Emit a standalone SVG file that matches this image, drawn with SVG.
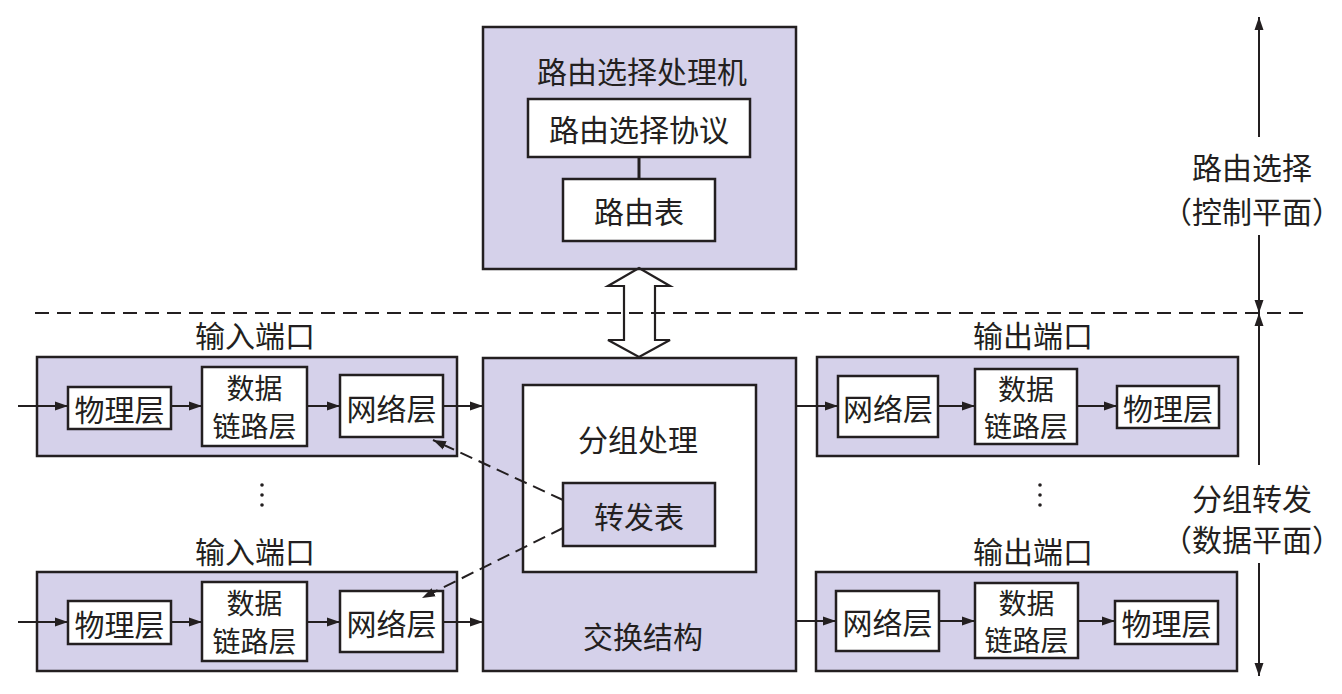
<svg xmlns="http://www.w3.org/2000/svg" width="1342" height="694" viewBox="0 0 1342 694">
<defs>
<style>
.lav{fill:#d5d1ea;stroke:#231f20;stroke-width:2.5}
.wht{fill:#ffffff;stroke:#231f20;stroke-width:2.5}
.t{font-family:"Noto Sans CJK SC","Noto Sans",sans-serif;font-size:30px;fill:#231f20;text-anchor:middle;dominant-baseline:central}
.t2{font-size:28px}
.ln{stroke:#231f20;stroke-width:2;fill:none}
.arr{stroke:#231f20;stroke-width:2;fill:none;marker-end:url(#ah)}
.dash{stroke:#231f20;stroke-width:2;fill:none;stroke-dasharray:13 7;marker-end:url(#ah)}
</style>
<marker id="ah" markerWidth="13" markerHeight="10" refX="13" refY="5" orient="auto" markerUnits="userSpaceOnUse">
<path d="M0,0.5 L13,5 L0,9.5 z" fill="#231f20"/>
</marker>
</defs>
<rect width="1342" height="694" fill="#ffffff"/>

<g id="routing-processor">
<rect class="lav" x="483" y="27" width="313" height="242"/>
<text class="t" x="642" y="70">路由选择处理机</text>
<rect class="wht" x="528" y="99" width="222" height="58"/>
<text class="t" x="639" y="128">路由选择协议</text>
<rect class="wht" x="563" y="179" width="152" height="62"/>
<text class="t" x="639" y="210">路由表</text>
</g>

<g id="switch-fabric">
<rect class="lav" x="483" y="358" width="313" height="313"/>
<rect class="wht" x="523" y="385" width="233" height="187"/>
<text class="t" x="638" y="438">分组处理</text>
<rect class="lav" x="563" y="483" width="152" height="63"/>
<text class="t" x="639" y="515">转发表</text>
<text class="t" x="643" y="635">交换结构</text>
</g>

<g id="input-port-1">
<text class="t" x="255" y="334">输入端口</text>
<rect class="lav" x="37" y="357" width="420" height="99"/>
<rect class="wht" x="68" y="387" width="103" height="42"/>
<text class="t" x="119.5" y="408">物理层</text>
<rect class="wht" x="202" y="367" width="105" height="79"/>
<text class="t t2" x="254.5" y="387">数据</text>
<text class="t t2" x="254.5" y="425">链路层</text>
<rect class="wht" x="340" y="375" width="103" height="62"/>
<text class="t" x="391.5" y="407">网络层</text>
</g>

<g id="input-port-2">
<text class="t" x="255" y="550">输入端口</text>
<rect class="lav" x="37" y="572" width="420" height="99"/>
<rect class="wht" x="68" y="601" width="103" height="43"/>
<text class="t" x="119.5" y="623">物理层</text>
<rect class="wht" x="202" y="582" width="105" height="79"/>
<text class="t t2" x="254.5" y="602">数据</text>
<text class="t t2" x="254.5" y="640">链路层</text>
<rect class="wht" x="340" y="591" width="103" height="61"/>
<text class="t" x="391.5" y="622">网络层</text>
</g>

<g id="output-port-1">
<text class="t" x="1033" y="334">输出端口</text>
<rect class="lav" x="817" y="357" width="421" height="99"/>
<rect class="wht" x="838" y="376" width="100" height="61"/>
<text class="t" x="888" y="407">网络层</text>
<rect class="wht" x="975" y="369" width="102" height="75"/>
<text class="t t2" x="1026" y="388">数据</text>
<text class="t t2" x="1026" y="425">链路层</text>
<rect class="wht" x="1117" y="386" width="102" height="42"/>
<text class="t" x="1168" y="407">物理层</text>
</g>

<g id="output-port-2">
<text class="t" x="1033" y="550">输出端口</text>
<rect class="lav" x="816" y="572" width="421" height="99"/>
<rect class="wht" x="836" y="591" width="103" height="60"/>
<text class="t" x="887.5" y="621">网络层</text>
<rect class="wht" x="975" y="583" width="103" height="75"/>
<text class="t t2" x="1026.5" y="602">数据</text>
<text class="t t2" x="1026.5" y="639">链路层</text>
<rect class="wht" x="1115" y="601" width="103" height="43"/>
<text class="t" x="1166.5" y="622">物理层</text>
</g>

<g id="ellipsis-marks" fill="#231f20">
<circle cx="262" cy="485" r="1.8"/><circle cx="262" cy="495" r="1.8"/><circle cx="262" cy="505" r="1.8"/>
<circle cx="1040" cy="485" r="1.8"/><circle cx="1040" cy="495" r="1.8"/><circle cx="1040" cy="505" r="1.8"/>
</g>

<g id="plane-labels">
<text class="t" x="1252" y="166">路由选择</text>
<text class="t" x="1252" y="210">（控制平面）</text>
<text class="t" x="1252" y="497">分组转发</text>
<text class="t" x="1252" y="538">（数据平面）</text>
</g>

<g id="connectors">
<line x1="35" y1="313" x2="1310" y2="313" stroke="#231f20" stroke-width="2" stroke-dasharray="14 8"/>
<polygon points="639,268 670,286 655,286 655,340 670,340 639,357 608,340 624,340 624,286 608,286" fill="none" stroke="#231f20" stroke-width="2.2" stroke-linejoin="miter"/>
<line class="ln" x1="639" y1="157" x2="639" y2="179" style="stroke-width:3"/>

<line class="arr" x1="18" y1="406" x2="68" y2="406"/>
<line class="arr" x1="171" y1="406" x2="202" y2="406"/>
<line class="arr" x1="307" y1="406" x2="340" y2="406"/>
<line class="arr" x1="443" y1="406" x2="483" y2="406"/>

<line class="arr" x1="18" y1="622" x2="68" y2="622"/>
<line class="arr" x1="171" y1="622" x2="202" y2="622"/>
<line class="arr" x1="307" y1="622" x2="340" y2="622"/>
<line class="arr" x1="443" y1="622" x2="483" y2="622"/>

<line class="arr" x1="796" y1="406" x2="838" y2="406"/>
<line class="arr" x1="938" y1="406" x2="975" y2="406"/>
<line class="arr" x1="1077" y1="406" x2="1117" y2="406"/>

<line class="arr" x1="796" y1="621" x2="836" y2="621"/>
<line class="arr" x1="939" y1="621" x2="975" y2="621"/>
<line class="arr" x1="1078" y1="621" x2="1115" y2="621"/>

<line class="dash" x1="563" y1="500" x2="433" y2="440"/>
<line class="dash" x1="563" y1="528" x2="422" y2="598"/>

<line class="arr" x1="1259" y1="137" x2="1259" y2="17"/>
<line class="arr" x1="1259" y1="235" x2="1259" y2="313"/>
<line class="arr" x1="1259" y1="465" x2="1259" y2="313"/>
<line class="arr" x1="1259" y1="563" x2="1259" y2="676"/>
</g>
</svg>
